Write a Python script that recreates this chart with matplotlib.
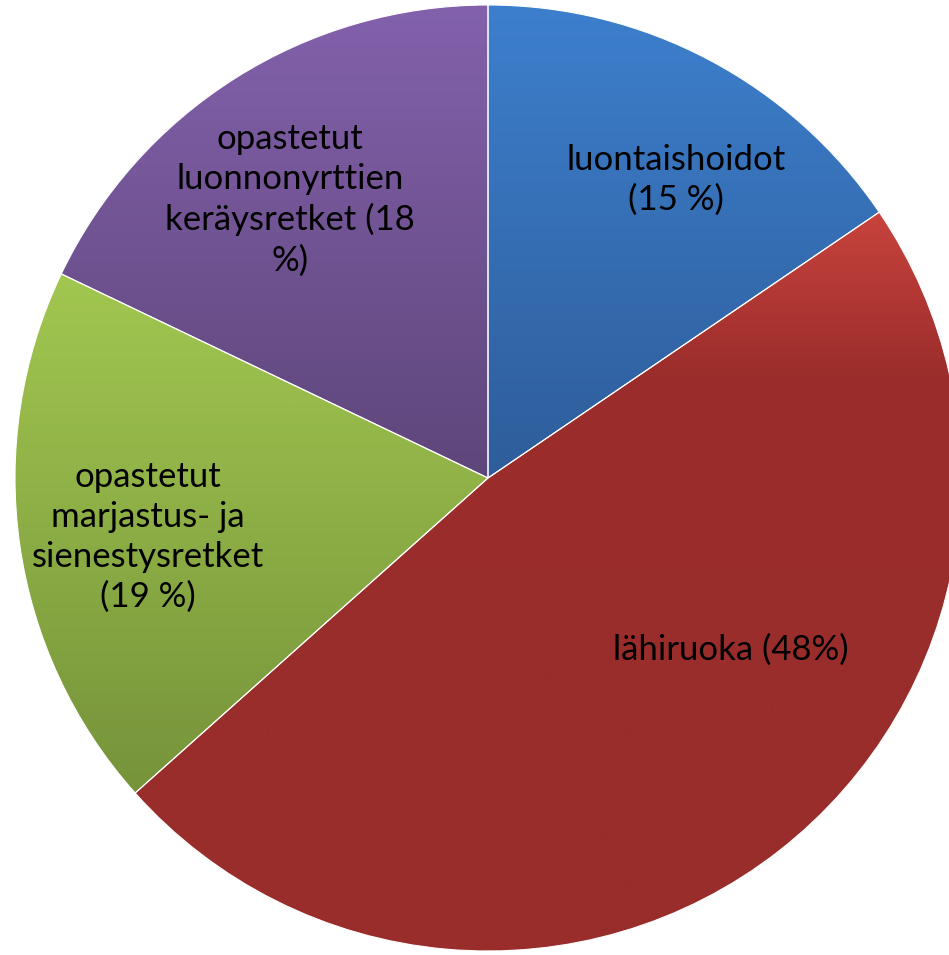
import numpy as np
import matplotlib.pyplot as plt
from matplotlib.colors import LinearSegmentedColormap
from matplotlib.patches import Wedge

# --- DATA ---
labels = ["luontaishoidot\n(15 %)",
          "lähiruoka (48%)",
          "opastetut\nmarjastus- ja\nsienestysretket\n(19 %)",
          "opastetut\nluonnonyrttien\nkeräysretket (18\n%)"]
# slice sizes (labels show rounded values)
shares = [15.5, 47.9, 18.7, 17.9]

# gradient colour stops per slice, bottom -> top
grad_colors = [[(0.0, "#2E5D9A"), (1.0, "#3D7FCD")],
               [(0.0, "#982D2B"), (0.78, "#9B2D2B"), (1.0, "#C8433D")],
               [(0.0, "#76933A"), (1.0, "#A2C750")],
               [(0.0, "#5E467A"), (1.0, "#8361AC")]]

# label centres in pixel coords (layout)
label_pos = [(676, 180), (731, 650), (148, 537), (290, 200)]

W, H = 949, 955
CX, CY, R = 488, 478, 473

fig = plt.figure(figsize=(W / 100, H / 100), dpi=100)
ax = fig.add_axes([0, 0, 1, 1])

wedges, _ = ax.pie(shares, startangle=90, counterclock=False,
                   center=(CX, H - CY), radius=R, frame=True,
                   wedgeprops=dict(edgecolor="white", linewidth=0.8))

grad = np.linspace(1, 0, 256).reshape(-1, 1)
for w, stops in zip(wedges, grad_colors):
    ext = w.get_path().get_extents()
    cmap = LinearSegmentedColormap.from_list("g", stops)
    im = ax.imshow(grad, cmap=cmap, aspect="auto", vmin=0, vmax=1,
                   extent=[ext.x0, ext.x1, ext.y0, ext.y1], zorder=2,
                   interpolation="bilinear")
    im.set_clip_path(w)
    outline = Wedge(w.center, w.r, w.theta1, w.theta2, facecolor="none",
                    edgecolor="white", linewidth=0.8, zorder=3)
    ax.add_patch(outline)

ax.set_xlim(0, W)
ax.set_ylim(0, H)
ax.set_aspect("equal")
ax.axis("off")

for txt, (x, y) in zip(labels, label_pos):
    ax.text(x, H - y, txt, ha="center", va="center", fontsize=25,
            family="Lato", linespacing=1.3, color="black", zorder=5)

fig.savefig("out.png", dpi=100)
